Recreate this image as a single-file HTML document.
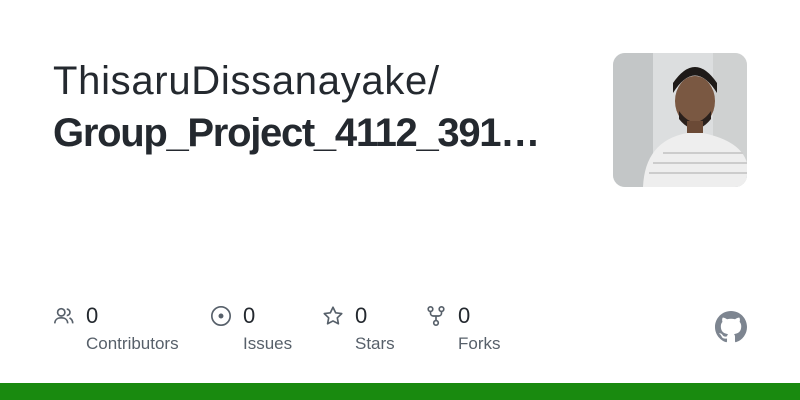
<!DOCTYPE html>
<html><head><meta charset="utf-8"><style>
html,body{margin:0;padding:0;width:800px;height:400px;overflow:hidden;background:#fff;font-family:"Liberation Sans",sans-serif;color:#24292f}
.abs{position:absolute}
.t1{left:53px;top:57px;font-size:40px;line-height:48px;letter-spacing:0.7px;white-space:nowrap}
.t2{left:53px;top:109px;font-size:40px;line-height:48px;font-weight:bold;letter-spacing:-1.3px;white-space:nowrap}
.num{font-size:22px;top:303px;color:#24292f}
.lbl{font-size:17px;top:334px;color:#57606a}
.ic{top:305px;width:22px;height:22px}
</style></head><body>
<div class="abs t1">ThisaruDissanayake/</div>
<div class="abs t2">Group_Project_4112_391…</div>

<svg class="abs" style="left:613px;top:53px" width="134" height="134" viewBox="0 0 134 134">
<defs><clipPath id="c"><rect width="134" height="134" rx="12"/></clipPath></defs>
<g clip-path="url(#c)">
<rect width="134" height="134" fill="#dcdedf"/>
<rect width="40" height="134" fill="#c3c6c7"/>
<rect x="100" width="34" height="134" fill="#cfd1d1"/>
<ellipse cx="82" cy="48" rx="20" ry="25" fill="#7a5842"/>
<path d="M60 40 Q82 5 104 40 L104 30 Q82 -2 60 30Z" fill="#1e1a18"/>
<path d="M66 58 Q82 80 98 58 L98 66 Q82 86 66 66Z" fill="#2a201c"/>
<rect x="74" y="68" width="16" height="14" fill="#6b4a36"/>
<path d="M30 134 Q32 88 74 80 L90 80 Q128 88 134 110 L134 134Z" fill="#eeeeee"/>
<path d="M40 110 L134 110 M36 120 L134 120 M50 100 L130 100" stroke="#ccc" stroke-width="2"/>
</g></svg>

<svg class="abs ic" style="left:53px" viewBox="0 0 24 24" fill="none" stroke="#57606a" stroke-width="1.8"><circle cx="9" cy="8" r="4"/><path d="M2 20c0-4 3-6 7-6s7 2 7 6"/><path d="M15 4.5a3.5 3.5 0 010 7M18 14c2 1 3.5 3 3.5 6"/></svg>
<div class="abs num" style="left:86px">0</div>
<div class="abs lbl" style="left:86px">Contributors</div>

<svg class="abs ic" style="left:210px" viewBox="0 0 24 24" fill="none" stroke="#57606a" stroke-width="1.8"><circle cx="12" cy="12" r="10"/><circle cx="12" cy="12" r="1.8" fill="#57606a"/></svg>
<div class="abs num" style="left:243px">0</div>
<div class="abs lbl" style="left:243px">Issues</div>

<svg class="abs ic" style="left:322px" viewBox="0 0 24 24" fill="none" stroke="#57606a" stroke-width="1.8" stroke-linejoin="round"><path d="M12 2.5l2.9 6 6.6.9-4.8 4.6 1.2 6.5L12 17.4l-5.9 3.1 1.2-6.5L2.5 9.4l6.6-.9z"/></svg>
<div class="abs num" style="left:355px">0</div>
<div class="abs lbl" style="left:355px">Stars</div>

<svg class="abs ic" style="left:425px" viewBox="0 0 24 24" fill="none" stroke="#57606a" stroke-width="1.8"><circle cx="6" cy="4.5" r="2.5"/><circle cx="18" cy="4.5" r="2.5"/><circle cx="12" cy="19.5" r="2.5"/><path d="M6 7v2a3 3 0 003 3h6a3 3 0 003-3V7M12 12v5"/></svg>
<div class="abs num" style="left:458px">0</div>
<div class="abs lbl" style="left:458px">Forks</div>

<svg class="abs" style="left:715px;top:311px" width="32" height="32" viewBox="0 0 16 16"><path fill="#7d8590" d="M8 0C3.58 0 0 3.58 0 8c0 3.54 2.29 6.53 5.47 7.59.4.07.55-.17.55-.38 0-.19-.01-.82-.01-1.49-2.01.37-2.53-.49-2.69-.94-.09-.23-.48-.94-.82-1.13-.28-.15-.68-.52-.01-.53.63-.01 1.08.58 1.23.82.72 1.21 1.87.87 2.33.66.07-.52.28-.87.51-1.07-1.78-.2-3.64-.89-3.64-3.95 0-.87.31-1.59.82-2.15-.08-.2-.36-1.02.08-2.12 0 0 .67-.21 2.2.82.64-.18 1.32-.27 2-.27.68 0 1.36.09 2 .27 1.53-1.04 2.2-.82 2.2-.82.44 1.1.16 1.92.08 2.12.51.56.82 1.27.82 2.15 0 3.07-1.87 3.75-3.65 3.95.29.25.54.73.54 1.48 0 1.07-.01 1.93-.01 2.2 0 .21.15.46.55.38A8.013 8.013 0 0 0 16 8c0-4.42-3.58-8-8-8z"/></svg>

<div class="abs" style="left:0;top:383px;width:800px;height:17px;background:#198a0f"></div>
</body></html>
